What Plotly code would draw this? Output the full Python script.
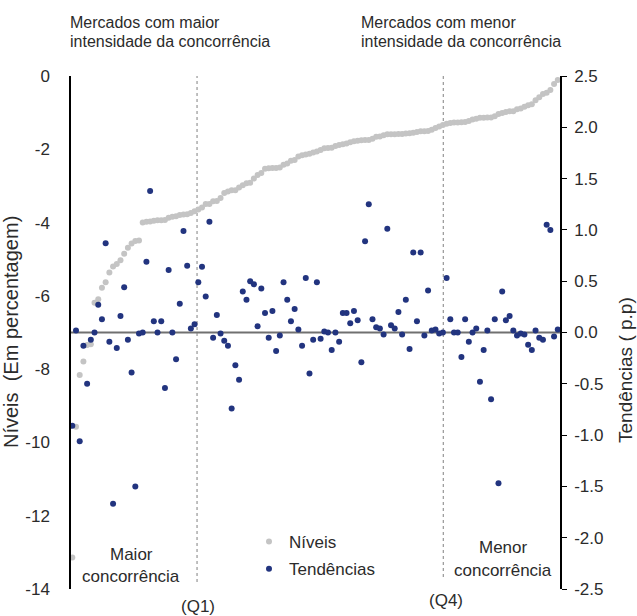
import plotly.graph_objects as go

# ---- data ----
mercados = list(range(132))

niveis = [
    -13.14, -9.57, -8.16, -7.79, -7.34, -7.32, -6.19, -6.09, -5.78, -5.63,
    -5.36, -5.20, -5.13, -5.03, -4.85, -4.69, -4.57, -4.50, -4.49, -4.00,
    -3.98, -3.97, -3.95, -3.94, -3.94, -3.93, -3.87, -3.84, -3.83, -3.79,
    -3.78, -3.77, -3.74, -3.69, -3.64, -3.59, -3.49, -3.49, -3.42, -3.41,
    -3.33, -3.19, -3.15, -3.12, -3.12, -3.04, -2.98, -2.93, -2.91, -2.80,
    -2.70, -2.65, -2.53, -2.52, -2.51, -2.51, -2.50, -2.42, -2.39, -2.31,
    -2.29, -2.20, -2.16, -2.14, -2.12, -2.09, -2.06, -2.02, -1.97, -1.965,
    -1.96, -1.91, -1.88, -1.86, -1.84, -1.81, -1.78, -1.77, -1.75, -1.747,
    -1.745, -1.71, -1.66, -1.65, -1.62, -1.59, -1.59, -1.59, -1.58, -1.58,
    -1.57, -1.56, -1.55, -1.53, -1.51, -1.51, -1.50, -1.47, -1.42, -1.38,
    -1.34, -1.30, -1.28, -1.27, -1.27, -1.26, -1.255, -1.23, -1.19, -1.17,
    -1.14, -1.14, -1.13, -1.13, -1.10, -1.04, -1.01, -0.98, -0.96, -0.96,
    -0.91, -0.89, -0.84, -0.80, -0.77, -0.66, -0.58, -0.49, -0.46, -0.38,
    -0.22, -0.11,
]

tendencias = [
    -0.91, 0.02, -1.06, -0.13, -0.50, -0.07, 0.00, 0.27, 0.13, 0.87,
    -0.09, -1.67, -0.15, 0.16, 0.44, -0.07, -0.39, -1.50, -0.01, 0.00,
    0.69, 1.38, 0.11, 0.00, 0.11, -0.54, 0.61, 0.00, -0.26, 0.28,
    0.99, 0.65, 0.04, 0.08, 0.49, 0.64, 0.35, 1.08, -0.05, 0.17,
    -0.01, -0.08, -0.13, -0.74, -0.32, -0.46, 0.40, 0.32, 0.50, 0.47,
    0.06, 0.43, 0.19, -0.05, 0.21, -0.18, -0.03, 0.49, 0.32, 0.11,
    0.23, 0.03, -0.13, 0.53, -0.40, -0.07, 0.49, -0.06, 0.01, 0.00,
    -0.17, 0.00, -0.09, 0.19, 0.19, 0.09, 0.21, 0.12, -0.29, 0.89,
    1.25, 0.13, 0.05, 0.04, -0.02, 1.01, 0.07, 0.04, 0.20, -0.02,
    0.32, -0.16, 0.78, 0.11, 0.78, -0.03, 0.41, 0.02, 0.03, -0.01,
    0.00, 0.53, 0.13, 0.00, 0.00, -0.24, 0.13, -0.09, 0.00, 0.04,
    -0.48, -0.17, 0.02, -0.65, 0.13, -1.47, 0.40, 0.12, 0.16, 0.02,
    -0.03, -0.01, -0.02, -0.12, -0.17, 0.02, -0.05, -0.07, 1.05, 1.00,
    -0.04, 0.03,
]

left_tickvals = [0, -2, -4, -6, -8, -10, -12, -14]
left_ticktext = ["0", "-2", "-4", "-6", "-8", "-10", "-12", "-14"]
right_tickvals = [2.5, 2.0, 1.5, 1.0, 0.5, 0.0, -0.5, -1.0, -1.5, -2.0, -2.5]
right_ticktext = ["2.5", "2.0", "1.5", "1.0", "0.5", "0.0", "-0.5", "-1.0", "-1.5", "-2.0", "-2.5"]

q_positions = [33.66, 100.1]
q_labels = ["(Q1)", "(Q4)"]

# ---- layout geometry (window pixels; page body margin removed) ----
W, H = 637, 616
L, R, T, B = 71, 560, 76, 589


def px(x):
    return (x - L) / (R - L)


def py(y):
    return (B - y) / (B - T)


FONT = "Liberation Sans, Arial, sans-serif"
TXT = "#2b2b2b"

fig = go.Figure()
fig.add_trace(go.Scatter(
    x=mercados, y=niveis, mode="markers", name="Níveis",
    marker=dict(color="#c4c4c4", size=6), yaxis="y", legendgroup="a",
))
fig.add_trace(go.Scatter(
    x=mercados, y=tendencias, mode="markers", name="Tendências",
    marker=dict(color="#22347f", size=6), yaxis="y2", legendgroup="b",
))

shapes = [
    dict(type="line", xref="paper", x0=0, x1=1, yref="y2", y0=0, y1=0,
         line=dict(color="#707070", width=2), layer="below"),
    dict(type="line", xref="x", x0=q_positions[0], x1=q_positions[0],
         yref="paper", y0=py(582), y1=1,
         line=dict(color="#808080", width=1, dash="dot"), layer="below"),
    dict(type="line", xref="x", x0=q_positions[1], x1=q_positions[1],
         yref="paper", y0=py(577), y1=1,
         line=dict(color="#808080", width=1, dash="dot"), layer="below"),
]

annotations = []


def ann(text, x, y, size, xanchor="center", angle=0):
    annotations.append(dict(
        text=text, xref="paper", yref="paper", x=px(x), y=py(y),
        xanchor=xanchor, yanchor="middle", showarrow=False,
        textangle=angle, font=dict(family=FONT, size=size, color=TXT),
    ))


ann("Mercados com maior", 68, 23, 16, "left")
ann("intensidade da concorrência", 68, 41, 16, "left")
ann("Mercados com menor", 359, 23, 16, "left")
ann("intensidade da concorrência", 359, 41, 16, "left")
ann("Maior", 131, 554, 17)
ann("concorrência", 131, 576, 17)
ann("Menor", 503, 547, 17)
ann("concorrência", 503, 570, 17)
ann(q_labels[0], 197.5, 606, 17)
ann(q_labels[1], 445.5, 600, 17)
ann("Níveis\u00a0 (Em percentagem)", 11, 332, 20, angle=-90)
ann("Tendências ( p.p)", 625, 370, 19, angle=-90)

fig.update_layout(
    width=W, height=H,
    margin=dict(l=L, r=W - R, t=T, b=H - B, pad=0),
    paper_bgcolor="white", plot_bgcolor="white",
    font=dict(family=FONT, size=17, color=TXT),
    showlegend=True,
    legend=dict(
        x=px(249), y=py(524), xanchor="left", yanchor="top",
        bgcolor="rgba(0,0,0,0)", font=dict(family=FONT, size=17, color=TXT),
        itemwidth=30, tracegroupgap=2, traceorder="grouped",
    ),
    xaxis=dict(range=[-0.35, 131.6], visible=False, showgrid=False, zeroline=False),
    yaxis=dict(
        range=[-14, 0], tickvals=left_tickvals, ticktext=left_ticktext,
        showgrid=False, zeroline=False,
        showline=True, linecolor="black", linewidth=1.5, ticks="",
        ticklabelstandoff=16, tickfont=dict(family=FONT, size=17, color=TXT),
    ),
    yaxis2=dict(
        range=[-2.5, 2.5], overlaying="y", side="right",
        tickvals=right_tickvals, ticktext=right_ticktext,
        showgrid=False, zeroline=False, showline=True, linecolor="black",
        linewidth=1.5, ticks="outside", ticklen=5, tickcolor="black",
        ticklabelstandoff=4, tickfont=dict(family=FONT, size=17, color=TXT),
    ),
    shapes=shapes,
    annotations=annotations,
)

# remove the browser's default 8px page margin so the figure fills the window
fig.write_html(
    "out.html",
    config={"displayModeBar": False},
    post_script="document.body.style.margin='0';",
)
